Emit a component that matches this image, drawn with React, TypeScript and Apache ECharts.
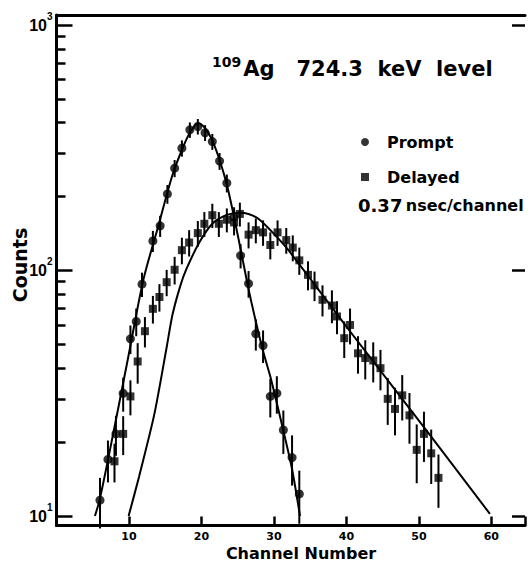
import React, { useEffect, useRef } from 'react';
import * as echarts from 'echarts';

// Prompt spectrum (filled circles)
const promptX = [6.0, 7.1, 8.2, 9.2, 10.2, 11.0, 11.8, 13.3, 14.3, 15.3, 16.3, 17.3, 18.4, 19.5, 20.5, 21.5, 22.5, 23.5, 24.5, 25.4, 26.5, 27.5, 28.5, 29.5, 30.4, 31.3, 32.5, 33.5];
const promptCounts = [11.6, 17.0, 21.6, 31.6, 52.7, 62, 88, 132, 152, 205, 261, 315, 374, 386, 364, 335, 279, 227, 165, 115, 88.5, 55.2, 49.5, 30.7, 31.6, 22.4, 17.3, 12.3];
const promptErr = [2.7, 3.3, 4, 5, 7, 8, 10, 13, 15, 18, 21, 24, 27, 28, 27, 25, 22, 19, 16, 13, 11, 8, 7.5, 5.5, 5.5, 4.5, 4, 3];

// Delayed spectrum (filled squares)
const delayedX = [8.0, 9.2, 10.2, 11.2, 12.2, 13.3, 14.2, 15.2, 16.3, 17.3, 18.3, 19.5, 20.4, 21.5, 22.4, 23.5, 24.5, 25.3, 26.5, 27.5, 28.5, 29.5, 30.5, 31.7, 32.6, 33.5, 34.7, 35.6, 36.7, 38.0, 38.7, 39.7, 40.5, 41.6, 42.6, 43.7, 44.7, 45.7, 46.7, 47.7, 48.7, 49.7, 50.7, 51.7, 52.7];
const delayedCounts = [16.7, 21.6, 30.7, 42.6, 56.6, 69.8, 78, 89.6, 100.7, 121, 130, 142, 155, 168, 155, 161, 157, 170, 140, 146, 143, 127, 143, 133, 124, 110, 96, 87, 76, 72, 65, 53, 60, 46, 44, 43, 40, 30, 27.3, 31, 25.7, 18.6, 21.6, 18.0, 14.3];
const delayedErr = [3, 3.9, 5, 8, 8, 9, 10, 11, 13, 15, 16, 17, 18, 19, 18, 18, 18, 19, 17, 17, 17, 16, 17, 16, 15, 14, 13, 12, 11, 11, 10, 9, 10, 8, 8, 8, 7.5, 6.5, 6, 6.5, 6, 5, 5, 4.5, 3.5];

// Fitted curves
const promptFitX = [5.3, 6, 8, 10, 12, 14, 16, 17.5, 18.5, 19.5, 20.5, 21.5, 22.5, 23.5, 24.5, 25.5, 26.5, 27.5, 28.5, 29.5, 30.5, 31.5, 32.5, 33.6];
const promptFitY = [10, 11.8, 23, 46, 92, 150, 245, 320, 368, 398, 380, 338, 282, 224, 165, 118, 84, 62, 47, 37, 28, 21, 15.5, 10];
const delayedFitX = [9.95, 11.4, 13.5, 15.2, 16.0, 17.05, 17.9, 19.7, 21.5, 23.4, 25.2, 26.5, 27.9, 30.0, 32.0, 40.3, 51.3, 59.8];
const delayedFitY = [10, 14.5, 26, 48.7, 66, 86, 101, 130, 155, 168, 172, 170, 162, 141, 121, 57.5, 21.8, 10.2];

// Axis ticks
const majorTicks = [10, 100, 1000];
const minorTicks = [20, 30, 40, 50, 60, 70, 80, 90, 200, 300, 400, 500, 600, 700, 800, 900];

export default function App() {
  const ref = useRef<HTMLDivElement>(null);
  useEffect(() => {
    if (!ref.current) return;
    const chart = echarts.init(ref.current, null, { renderer: 'svg' });
    const black = '#000';
    const font = 'DejaVu Sans';
    const yMin = 9.148;
    const yMax = 1098.4;
    const xMax = 64.64;

    const promptData = promptX.map((x, i) => [x, promptCounts[i]]);
    const delayedData = delayedX.map((x, i) => [x, delayedCounts[i]]);
    const promptErrData = promptX.map((x, i) => [x, promptCounts[i] - promptErr[i], promptCounts[i] + promptErr[i]]);
    const delayedErrData = delayedX.map((x, i) => [x, delayedCounts[i] - delayedErr[i], delayedCounts[i] + delayedErr[i]]);
    const promptFit = promptFitX.map((x, i) => [x, promptFitY[i]]);
    const delayedFit = delayedFitX.map((x, i) => [x, delayedFitY[i]]);

    const errRender = (params: any, api: any) => {
      const x = api.value(0);
      const a = api.coord([x, api.value(1)]);
      const b = api.coord([x, api.value(2)]);
      return {
        type: 'line',
        shape: { x1: a[0], y1: a[1], x2: b[0], y2: b[1] },
        style: { stroke: black, lineWidth: 2 },
      };
    };

    const baseY = {
      type: 'log',
      logBase: 10,
      min: yMin,
      max: yMax,
      splitLine: { show: false },
      minorTick: { show: false },
    };

    chart.setOption({
      animation: false,
      backgroundColor: '#fff',
      textStyle: { fontFamily: font, color: black },
      grid: { left: 56.5, top: 15, right: 0, bottom: 37.5, containLabel: false },
      legend: {
        data: ['Prompt', 'Delayed'],
        orient: 'vertical',
        left: 356,
        top: 127,
        itemWidth: 8,
        itemHeight: 8,
        itemGap: 15,
        textStyle: { fontFamily: font, fontWeight: 'bold', fontSize: 16, color: black, lineHeight: 20, padding: [0, 0, 0, 13] },
        selectedMode: false,
      },
      xAxis: [
        {
          type: 'value',
          min: 0,
          max: xMax,
          interval: 10,
          position: 'bottom',
          axisLine: { show: true, lineStyle: { color: black, width: 3 } },
          axisTick: { show: true, inside: true, length: 9, lineStyle: { color: black, width: 2.5 } },
          axisLabel: {
            margin: 5,
            fontFamily: font,
            fontWeight: 'bold',
            fontSize: 11,
            color: black,
            formatter: (v: number) => (v > 0 && v % 10 === 0 ? String(v) : ''),
          },
          splitLine: { show: false },
        },
        {
          type: 'value',
          min: 0,
          max: xMax,
          position: 'top',
          axisLine: { show: true, lineStyle: { color: black, width: 3 } },
          axisTick: { show: false },
          axisLabel: { show: false },
          splitLine: { show: false },
        },
      ],
      yAxis: [
        {
          ...baseY,
          position: 'left',
          axisLine: { show: true, lineStyle: { color: black, width: 3 } },
          axisTick: { show: true, inside: true, length: 16, customValues: majorTicks, lineStyle: { color: black, width: 2.5 } },
          axisLabel: {
            show: true,
            customValues: majorTicks,
            margin: 4,
            formatter: (v: number) => `{a|10}{s|${Math.round(Math.log10(v))}}`,
            rich: {
              a: { fontFamily: 'Liberation Sans', fontWeight: 'bold', fontSize: 16, lineHeight: 28, color: black },
              s: { fontFamily: 'Liberation Sans', fontWeight: 'bold', fontSize: 10, lineHeight: 10, verticalAlign: 'top', color: black },
            },
          },
        },
        {
          ...baseY,
          position: 'left',
          axisLine: { show: false },
          axisTick: { show: true, inside: true, length: 9, customValues: minorTicks, lineStyle: { color: black, width: 2.5 } },
          axisLabel: { show: false },
        },
        {
          ...baseY,
          position: 'right',
          axisLine: { show: false },
          axisTick: { show: true, inside: true, length: 13, customValues: majorTicks, lineStyle: { color: black, width: 2.5 } },
          axisLabel: { show: false },
        },
      ],
      series: [
        {
          type: 'custom',
          name: 'promptErr',
          renderItem: errRender,
          data: promptErrData,
          encode: { x: 0, y: [1, 2] },
          z: 2,
        },
        {
          type: 'custom',
          name: 'delayedErr',
          renderItem: errRender,
          data: delayedErrData,
          encode: { x: 0, y: [1, 2] },
          z: 2,
        },
        {
          type: 'line',
          name: 'promptFit',
          data: promptFit,
          smooth: 0.3,
          showSymbol: false,
          lineStyle: { color: black, width: 2 },
          z: 3,
        },
        {
          type: 'line',
          name: 'delayedFit',
          data: delayedFit,
          smooth: 0.25,
          showSymbol: false,
          lineStyle: { color: black, width: 2 },
          z: 3,
        },
        {
          type: 'scatter',
          name: 'Prompt',
          data: promptData,
          symbol: 'circle',
          symbolSize: 9,
          itemStyle: { color: black },
          z: 4,
        },
        {
          type: 'scatter',
          name: 'Delayed',
          data: delayedData,
          symbol: 'rect',
          symbolSize: 8,
          itemStyle: { color: black },
          z: 4,
        },
      ],
      graphic: [
        {
          type: 'text',
          x: 212,
          y: 69,
          style: {
            text: '{s|109}{a|Ag   724.3  keV  level}',
            align: 'left',
            verticalAlign: 'middle',
            rich: {
              s: { fontFamily: font, fontWeight: 'bold', fontSize: 14, lineHeight: 14, verticalAlign: 'top', fill: black, padding: [0, 2, 0, 0] },
              a: { fontFamily: font, fontWeight: 'bold', fontSize: 21, lineHeight: 28, fill: black },
            },
          },
        },
        {
          type: 'text',
          x: 358,
          y: 205,
          style: {
            text: '{n|0.37} {t|nsec/channel}',
            align: 'left',
            verticalAlign: 'middle',
            rich: {
              n: { fontFamily: font, fontWeight: 'bold', fontSize: 18, fill: black },
              t: { fontFamily: font, fontWeight: 'bold', fontSize: 16, fill: black },
            },
          },
        },
        {
          type: 'text',
          x: 20,
          y: 265,
          rotation: Math.PI / 2,
          style: {
            text: 'Counts',
            align: 'center',
            verticalAlign: 'middle',
            font: `bold 19px "${font}"`,
            fill: black,
          },
        },
        {
          type: 'text',
          x: 301,
          y: 553.5,
          style: {
            text: 'Channel Number',
            align: 'center',
            verticalAlign: 'middle',
            font: `bold 16px "${font}"`,
            fill: black,
          },
        },
      ],
    });
    return () => chart.dispose();
  }, []);
  return <div ref={ref} style={{ position: 'fixed', left: 0, top: 0, width: 528, height: 563, background: '#fff' }} />;
}
